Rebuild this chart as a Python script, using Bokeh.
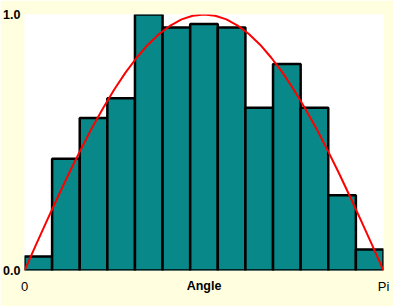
import math
from bokeh.plotting import figure
from bokeh.models import ColumnDataSource, Range1d, FixedTicker
from bokeh.embed import file_html
from bokeh.resources import INLINE

# Histogram bin heights (13 bins from 0 to Pi)
bin_heights = [0.055, 0.437, 0.596, 0.673, 1.02, 0.949, 0.963, 0.949, 0.636, 0.807, 0.636, 0.294, 0.082]
n_bins = len(bin_heights)
x_min = 0.0
x_max = math.pi

# Red curve points (fraction of Pi, height)
curve_frac = [k / 32 for k in range(33)]
curve_y = [0.0, 0.098, 0.195, 0.290, 0.383, 0.471, 0.556, 0.634, 0.707, 0.773, 0.831,
           0.882, 0.924, 0.957, 0.981, 0.995, 1.0,
           0.995, 0.981, 0.957, 0.924, 0.882, 0.831, 0.773, 0.707, 0.634, 0.556,
           0.471, 0.383, 0.290, 0.195, 0.098, 0.0]

# Tick labels
y_ticks = [0, 1]
y_tick_labels = ["0.0", "1.0"]
x_ticks = [x_min, x_max]
x_tick_labels = ["0", "Pi"]
x_title = "Angle"

bin_w = (x_max - x_min) / n_bins
centers = [x_min + (i + 0.5) * bin_w for i in range(n_bins)]
curve_x = [f * x_max for f in curve_frac]

p = figure(width=393, height=306, output_backend="svg", toolbar_location=None,
           min_border_left=24, min_border_right=10, min_border_top=14, min_border_bottom=36,
           x_range=Range1d(x_min, x_max), y_range=Range1d(0, 1))
p.border_fill_color = "#ffffe0"
p.background_fill_color = "white"
p.outline_line_color = None
p.grid.visible = False

src = ColumnDataSource(dict(x=centers, top=bin_heights))
p.vbar(x="x", top="top", bottom=0, width=bin_w, source=src,
       fill_color="#088888", line_color="black", line_width=2.5)
p.line(curve_x, curve_y, line_color="red", line_width=2)

# y axis
ya = p.yaxis[0]
ya.ticker = FixedTicker(ticks=y_ticks)
ya.major_label_overrides = {t: l for t, l in zip(y_ticks, y_tick_labels)}
ya.axis_line_color = None
ya.major_tick_line_color = None
ya.minor_tick_line_color = None
ya.major_tick_out = 0
ya.major_tick_in = 0
ya.minor_tick_out = 0
ya.minor_tick_in = 0
ya.major_label_standoff = 4
ya.major_label_text_font = "Liberation Sans"
ya.major_label_text_font_style = "bold"
ya.major_label_text_font_size = "12.5px"
ya.major_label_text_color = "black"

# x axis
xa = p.xaxis[0]
xa.ticker = FixedTicker(ticks=x_ticks)
xa.major_label_overrides = {t: l for t, l in zip(x_ticks, x_tick_labels)}
xa.axis_line_color = None
xa.major_tick_line_color = None
xa.minor_tick_line_color = None
xa.major_tick_out = 0
xa.major_tick_in = 0
xa.minor_tick_out = 0
xa.minor_tick_in = 0
xa.major_label_standoff = 8
xa.major_label_text_font = "Liberation Sans"
xa.major_label_text_font_size = "13px"
xa.major_label_text_color = "black"
xa.axis_label = x_title
xa.axis_label_standoff = -18
xa.axis_label_text_font = "Liberation Sans"
xa.axis_label_text_font_style = "bold"
xa.axis_label_text_font_size = "12.5px"
xa.axis_label_text_color = "black"

open("out.html", "w").write(file_html(p, INLINE))
